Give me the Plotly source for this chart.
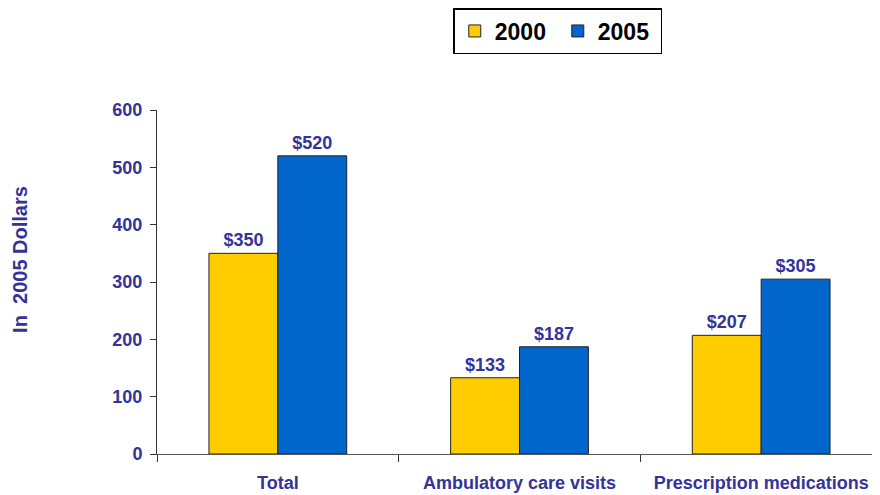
import plotly.graph_objects as go

categories = ['Total', 'Ambulatory care visits', 'Prescription medications']
values_2000 = [350, 133, 207]
values_2005 = [520, 187, 305]
y_ticks = [0, 100, 200, 300, 400, 500, 600]

navy = '#333399'
font_family = 'Liberation Sans, Arial, sans-serif'

fig = go.Figure()

fig.add_trace(go.Bar(
    x=categories, y=values_2000, name='2000',
    marker=dict(color='#FFCC00', line=dict(color='#222222', width=1)),
    text=[f'${v}' for v in values_2000], textposition='outside',
    textfont=dict(color=navy, size=18, family=font_family, weight='bold'),
    cliponaxis=False,
))
fig.add_trace(go.Bar(
    x=categories, y=values_2005, name='2005',
    marker=dict(color='#0066CC', line=dict(color='#222222', width=1)),
    text=[f'${v}' for v in values_2005], textposition='outside',
    textfont=dict(color=navy, size=18, family=font_family, weight='bold'),
    cliponaxis=False,
))

fig.update_xaxes(
    tickson='boundaries', ticks='outside', ticklen=7, tickcolor='#333333',
    showline=True, linecolor='#555555', linewidth=1,
    tickfont=dict(color=navy, size=18, family=font_family, weight='bold'),
    ticklabelstandoff=12, automargin=False,
)
fig.update_yaxes(
    range=[0, 600], tickvals=y_ticks, ticks='outside', ticklen=6,
    tickcolor='#333333', showline=True, linecolor='#333333', linewidth=1,
    showgrid=False, zeroline=False,
    tickfont=dict(color=navy, size=18, family=font_family, weight='bold'),
    ticklabelstandoff=4, automargin=False,
)

# axis title placed by hand to sit where the original has it
fig.add_annotation(
    text='In\u00a0 2005 Dollars', textangle=-90,
    xref='paper', yref='paper', x=-0.207, y=0.567,
    showarrow=False,
    font=dict(color=navy, size=20, family=font_family, weight='bold'),
)

fig.update_layout(
    width=880, height=487,
    margin=dict(l=149, r=6, t=102, b=41, autoexpand=False),
    barmode='group', bargap=0.43, bargroupgap=0,
    plot_bgcolor='white', paper_bgcolor='white',
    font=dict(family=font_family),
    legend=dict(
        orientation='h', x=0.506, y=1.0, xref='container', yref='container',
        xanchor='left', yanchor='top',
        bordercolor='black', borderwidth=1.5,
        font=dict(color='black', size=23, family=font_family, weight='bold'),
        entrywidth=58, traceorder='normal',
    ),
)

fig.write_html('out.html')
